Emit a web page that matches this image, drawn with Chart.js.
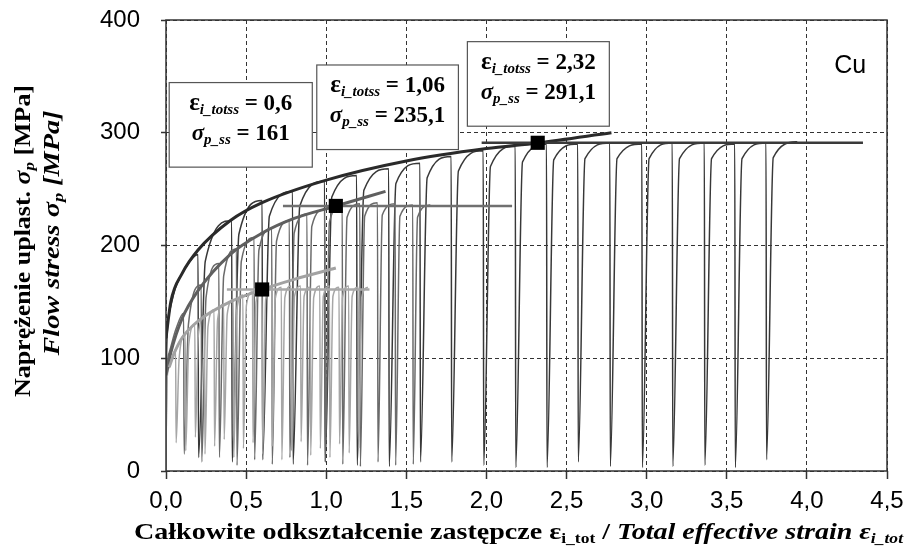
<!DOCTYPE html>
<html>
<head>
<meta charset="utf-8">
<script src="https://cdn.jsdelivr.net/npm/chart.js@4.4.1/dist/chart.umd.min.js"></script>
<style>
  html, body { margin: 0; padding: 0; background: #fff; }
  #wrap { width: 909px; height: 553px; }
</style>
</head>
<body>
<div id="wrap"><canvas id="chart"></canvas></div>
<script>
// multi-pass test, Cu: strain at each unloading, stress before/after unloading [MPa]
const darkFirstX = [0, 0.004, 0.02, 0.06, 0.12];
const darkFirstY = [0, 105, 140, 163, 180];
const darkDropX = [0.20, 0.41, 0.60, 0.79, 0.99, 1.19, 1.39, 1.585, 1.78, 1.98, 2.18, 2.375, 2.57, 2.77, 2.97, 3.16, 3.36, 3.55, 3.745, 3.94];
const darkPeak = [192, 222, 240, 248, 257, 262, 268, 273, 279, 284, 288, 290, 290, 291, 290, 291, 291, 290, 291, 292];
const darkTrough = [12, 8, 10, 6, 8, 5, 4, 8, 8, 5, 3, 3, 8, 4, 3, 4, 5, 3, 10];
const darkReload = [186, 210, 226, 235, 243, 249, 255, 260, 266, 270, 274, 276, 277, 277, 277, 277, 277, 277, 278];

const medFirstX = [0, 0.004, 0.02, 0.06];
const medFirstY = [0, 80, 105, 125];
const medDropX = [0.11, 0.22, 0.33, 0.44, 0.55, 0.66, 0.77, 0.88, 0.99, 1.10, 1.21, 1.32, 1.43, 1.54, 1.65];
const medPeak = [140, 165, 184, 197, 207, 215, 222, 228, 232, 236, 237, 238, 237, 236, 236];
const medTrough = [15, 8, 12, 5, 10, 6, 12, 5, 8, 6, 4, 8, 5, 6];
const medReload = [130, 154, 173, 186, 196, 204, 211, 217, 221, 225, 226, 227, 226, 225];

const lightFirstX = [0, 0.004, 0.02];
const lightFirstY = [0, 75, 92];
const lightDropX = [0.06, 0.12, 0.18, 0.24, 0.30, 0.36, 0.42, 0.48, 0.54, 0.60, 0.66, 0.72, 0.78, 0.84, 0.90, 0.96, 1.02, 1.08, 1.14, 1.20, 1.26];
const lightPeak = [108, 121, 130, 137, 143, 148, 152, 156, 159, 161, 162, 163, 164, 164, 163, 164, 164, 163, 164, 163, 163];
const lightTrough = [25, 18, 30, 15, 22, 28, 12, 20, 25, 15, 22, 10, 18, 26, 14, 20, 12, 24, 16, 20];
const lightReload = [100, 112, 121, 128, 134, 139, 143, 147, 150, 152, 153, 154, 155, 155, 154, 155, 155, 154, 155, 154];

// fitted envelopes
const darkFitX = [0, 0.03, 0.1, 0.2, 0.4, 0.6, 1.0, 1.5, 2.0, 2.32, 2.78];
const darkFitY = [118, 150, 175, 196, 222, 238, 258, 275, 286, 291, 300];
const medFitX = [0, 0.03, 0.1, 0.2, 0.4, 0.6, 0.8, 1.06, 1.37];
const medFitY = [85, 105, 135, 160, 192, 211, 224, 235, 248];
const lightFitX = [0.02, 0.05, 0.1, 0.2, 0.4, 0.6, 0.8, 1.06];
const lightFitY = [92, 104, 118, 133, 150, 161, 170, 180];

// steady state points and their horizontal lines
const ssStrain = [0.6, 1.06, 2.32];
const ssStress = [161, 235.1, 291.1];
const ssLineFrom = [0.38, 0.73, 1.97];
const ssLineTo = [1.27, 2.16, 4.35];

const fmt = v => String(v).replace('.', ',');

function buildCycles(firstX, firstY, dropX, peak, trough, reload, knee) {
    const pts = firstX.map((x, i) => ({ x: x, y: firstY[i] }));
    dropX.forEach((x, i) => {
        pts.push({ x: x, y: peak[i] });
        if (i < trough.length) {
            pts.push({ x: x + 0.003, y: trough[i] });
            pts.push({ x: x + knee, y: reload[i] });
        }
    });
    return pts;
}

function zip(xs, ys) {
    return xs.map((x, i) => ({ x: x, y: ys[i] }));
}

const cycleColors = ['#383838', '#6a6a6a', '#a6a6a6'];
const fitColors = ['#2a2a2a', '#5f5f5f', '#a2a2a2'];
const ssColors = ['#a8a8a8', '#707070', '#3a3a3a'];

const datasets = [];

// markers on top
datasets.push({
    data: zip(ssStrain, ssStress),
    showLine: false,
    pointStyle: 'rect',
    pointRadius: 10,
    pointBackgroundColor: '#000',
    pointBorderWidth: 0,
    order: 0
});

ssStrain.forEach((s, i) => {
    datasets.push({
        data: [{ x: ssLineFrom[i], y: ssStress[i] }, { x: ssLineTo[i], y: ssStress[i] }],
        borderColor: ssColors[i],
        borderWidth: 2.5,
        pointRadius: 0,
        order: 1
    });
});

[[lightFitX, lightFitY], [medFitX, medFitY], [darkFitX, darkFitY]].forEach((f, i) => {
    datasets.push({
        data: zip(f[0], f[1]),
        borderColor: fitColors[2 - i],
        borderWidth: 3,
        pointRadius: 0,
        cubicInterpolationMode: 'monotone',
        order: 2
    });
});

const cycles = [
    buildCycles(lightFirstX, lightFirstY, lightDropX, lightPeak, lightTrough, lightReload, 0.022),
    buildCycles(medFirstX, medFirstY, medDropX, medPeak, medTrough, medReload, 0.03),
    buildCycles(darkFirstX, darkFirstY, darkDropX, darkPeak, darkTrough, darkReload, 0.045)
];
cycles.forEach((pts, i) => {
    datasets.push({
        data: pts,
        borderColor: cycleColors[2 - i],
        borderWidth: 1.5,
        pointRadius: 0,
        cubicInterpolationMode: 'monotone',
        order: 3 + i
    });
});

const SERIF = "'Liberation Serif', 'Times New Roman', serif";
const SANS = "'Liberation Sans', Arial, sans-serif";

function drawRich(ctx, parts, x, y, fit) {
    let total = 0;
    parts.forEach(p => {
        ctx.font = p.f;
        p.w = ctx.measureText(p.t).width;
        total += p.w;
    });
    ctx.save();
    ctx.translate(x, y);
    if (fit) ctx.scale(fit / total, 1);
    let cx = -total / 2;
    parts.forEach(p => {
        ctx.font = p.f;
        ctx.fillText(p.t, cx, p.dy || 0);
        cx += p.w;
    });
    ctx.restore();
}

// annotation boxes, in axis units
const boxes = [
    { x0: 0.02, x1: 0.913, top: 344.5 },
    { x0: 0.941, x1: 1.825, top: 360.1 },
    { x0: 1.881, x1: 2.767, top: 380.8 }
];
const boxHeight = 75;

const overlay = {
    id: 'overlay',
    afterDatasetsDraw(chart) {
        const { ctx, chartArea: a, scales: { x, y } } = chart;
        ctx.save();
        ctx.setLineDash([]);
        ctx.strokeStyle = '#333';
        ctx.lineWidth = 1.5;
        ctx.strokeRect(a.left, a.top, a.right - a.left, a.bottom - a.top);

        ctx.textBaseline = 'alphabetic';
        boxes.forEach((b, i) => {
            const l = x.getPixelForValue(b.x0);
            const r = x.getPixelForValue(b.x1);
            const t = y.getPixelForValue(b.top);
            const bt = y.getPixelForValue(b.top - boxHeight);
            ctx.fillStyle = '#fff';
            ctx.fillRect(l, t, r - l, bt - t);
            ctx.strokeStyle = '#555';
            ctx.lineWidth = 1.2;
            ctx.strokeRect(l, t, r - l, bt - t);
            ctx.fillStyle = '#000';
            const cx = (l + r) / 2;
            drawRich(ctx, [
                { t: 'ε', f: 'bold 25px ' + SERIF },
                { t: 'i_totss', f: 'bold italic 15px ' + SERIF, dy: 4 },
                { t: ' = ' + fmt(ssStrain[i]), f: 'bold 23px ' + SERIF }
            ], cx, t + 27);
            drawRich(ctx, [
                { t: 'σ', f: 'bold italic 23px ' + SERIF },
                { t: 'p_ss', f: 'bold italic 15px ' + SERIF, dy: 4 },
                { t: ' = ' + fmt(ssStress[i]), f: 'bold 23px ' + SERIF }
            ], cx, t + 57);
        });

        ctx.font = '25px ' + SANS;
        ctx.textAlign = 'center';
        ctx.textBaseline = 'middle';
        ctx.fillText('Cu', x.getPixelForValue(4.27), y.getPixelForValue(359));
        ctx.restore();
    },
    afterDraw(chart) {
        const ctx = chart.ctx;
        ctx.save();
        ctx.fillStyle = '#000';
        ctx.textBaseline = 'alphabetic';
        // y title, two lines
        ctx.save();
        ctx.translate(30, 241);
        ctx.rotate(-Math.PI / 2);
        drawRich(ctx, [
            { t: 'Naprężenie uplast. ', f: 'bold 23px ' + SERIF },
            { t: 'σ', f: 'bold italic 23px ' + SERIF },
            { t: 'p', f: 'bold italic 15px ' + SERIF, dy: 4 },
            { t: ' [MPa]', f: 'bold 23px ' + SERIF }
        ], 0, 0, 312);
        ctx.restore();
        ctx.save();
        ctx.translate(59, 233);
        ctx.rotate(-Math.PI / 2);
        drawRich(ctx, [
            { t: 'Flow stress σ', f: 'bold italic 23px ' + SERIF },
            { t: 'p', f: 'bold italic 15px ' + SERIF, dy: 4 },
            { t: ' [MPa]', f: 'bold italic 23px ' + SERIF }
        ], 0, 0, 245);
        ctx.restore();
        // x title
        drawRich(ctx, [
            { t: 'Całkowite odkształcenie zastępcze ε', f: 'bold 24px ' + SERIF },
            { t: 'i_tot', f: 'bold 15px ' + SERIF, dy: 4 },
            { t: ' / ', f: 'bold 24px ' + SERIF },
            { t: 'Total effective strain ε', f: 'bold italic 24px ' + SERIF },
            { t: 'i_tot', f: 'bold italic 15px ' + SERIF, dy: 4 }
        ], 518.5, 539, 769);
        ctx.restore();
    }
};

new Chart(document.getElementById('chart').getContext('2d'), {
    type: 'line',
    data: { datasets: datasets },
    options: {
        responsive: true,
        maintainAspectRatio: false,
        animation: false,
        events: [],
        layout: { autoPadding: false, padding: { left: 0, right: 22, top: 20, bottom: 0 } },
        plugins: {
            legend: { display: false },
            tooltip: { enabled: false }
        },
        scales: {
            x: {
                type: 'linear',
                min: 0,
                max: 4.5,
                // fixed axis box, no extra room for the end labels
                afterFit: s => { s.height = 82; s.paddingLeft = 0; s.paddingRight = 0; },
                ticks: {
                    stepSize: 0.5,
                    padding: 8,
                    color: '#000',
                    font: { family: SANS, size: 24 },
                    callback: v => v.toFixed(1).replace('.', ',')
                },
                grid: { color: '#333', lineWidth: 1, tickLength: 8, tickColor: '#333', tickWidth: 1.5 },
                border: { display: false, dash: [4, 3] }
            },
            y: {
                min: 0,
                max: 400,
                afterFit: s => { s.width = 166; s.paddingTop = 0; s.paddingBottom = 0; },
                ticks: {
                    stepSize: 100,
                    padding: 21,
                    color: '#000',
                    font: { family: SANS, size: 24 }
                },
                grid: { color: '#333', lineWidth: 1, tickLength: 5, tickColor: '#333', tickWidth: 1.5 },
                border: { display: false, dash: [4, 3] }
            }
        }
    },
    plugins: [overlay]
});
</script>
</body>
</html>
